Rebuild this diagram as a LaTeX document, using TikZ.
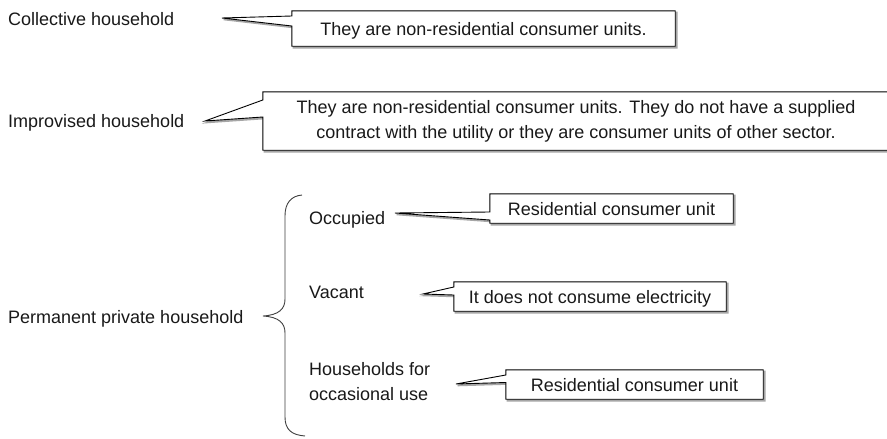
\documentclass[tikz,border=0pt]{standalone}
\usepackage{fontspec}
\setmainfont{Liberation Sans}
\usetikzlibrary{calc}
\begin{document}
\begin{tikzpicture}[x=1pt,y=-1pt,
  every node/.style={font=\fontsize{18}{25}\selectfont, inner sep=0pt, text=black!90},
  lab/.style={anchor=base west},
  cbox/.style={align=center, text height=13pt, text depth=0pt},
  cshape/.style={draw=black, fill=white, line width=0.9pt, line join=miter},
  cshadow/.style={draw=gray!70, fill=gray!70, line width=1.4pt, line join=miter,
    transform canvas={shift={(1.6pt,-1.6pt)}}},
  brace/.style={draw=black!75, line width=0.9pt}]
\useasboundingbox (0,0) rectangle (887,439);
\fill[white] (0,0) rectangle (887,439);

% labels
\node[lab] (coll) at (8,25.5) {Collective household};
\node[lab] (impr) at (8,127) {Improvised household};
\node[lab] (perm) at (8,323) {Permanent private household};
\node[lab] (occ)  at (309,224) {Occupied};
\node[lab] (vac)  at (309,298) {Vacant};
\node[anchor=north west, align=left] (occa) at (309,362.5) {Households for\\occasional use};

% callout boxes
\node[cbox, minimum width=383pt, minimum height=35pt] (b1) at (483.5,28.5) {They are non-residential consumer units.};
\node[align=center, minimum width=626pt, minimum height=58pt] (b2) at (576,121) {They are non-residential consumer units. They do not have a supplied\\contract with the utility or they are consumer units of other sector.};
\node[cbox, minimum width=243pt, minimum height=29pt] (b3) at (611.5,208.5) {Residential consumer unit};
\node[cbox, minimum width=272pt, minimum height=29pt] (b4) at (590,296.5) {It does not consume electricity};
\node[cbox, minimum width=257pt, minimum height=29pt] (b5) at (634.5,384.5) {Residential consumer unit};

% pointer tips and attachment heights
\coordinate (t1) at (222,18);  \coordinate (u1) at (0,16);  \coordinate (l1) at (0,26);
\coordinate (t2) at (205,121); \coordinate (u2) at (0,100); \coordinate (l2) at (0,117);
\coordinate (t3) at (395,213); \coordinate (u3) at (0,212); \coordinate (l3) at (0,220);
\coordinate (t4) at (423,294); \coordinate (u4) at (0,287); \coordinate (l4) at (0,295);
\coordinate (t5) at (456,384); \coordinate (u5) at (0,375); \coordinate (l5) at (0,382.5);

\newcommand{\calloutpath}[4]{(#1.north west) -- (#1.north east) -- (#1.south east) -- (#1.south west) -- (#1.west |- #4) -- (#2) -- (#1.west |- #3) -- cycle}

\foreach \b/\t/\u/\l in {b1/t1/u1/l1, b2/t2/u2/l2, b3/t3/u3/l3, b4/t4/u4/l4, b5/t5/u5/l5}{
  \path[cshadow] \calloutpath{\b}{\t}{\u}{\l};
  \path[cshape] \calloutpath{\b}{\t}{\u}{\l};
}
% redraw texts on top
\node[cbox, minimum width=383pt, minimum height=35pt] at (b1) {They are non-residential consumer units.};
\node[align=center, minimum width=626pt, minimum height=58pt] at (b2) {They are non-residential consumer units. They do not have a supplied\\contract with the utility or they are consumer units of other sector.};
\node[cbox, minimum width=243pt, minimum height=29pt] at (b3) {Residential consumer unit};
\node[cbox, minimum width=272pt, minimum height=29pt] at (b4) {It does not consume electricity};
\node[cbox, minimum width=257pt, minimum height=29pt] at (b5) {Residential consumer unit};

% brace
\coordinate (brtop) at (302,195);
\coordinate (brtip) at (263,316);
\coordinate (brbot) at (305,436);
\draw[brace] (brtop) .. controls (291,196) and (285,203) .. (285,216) -- (285,299)
  .. controls (285,309) and (279,315) .. (brtip)
  .. controls (279,317) and (285,323) .. (285,333) -- (285,417)
  .. controls (285,430) and (292,435) .. (brbot);
\end{tikzpicture}
\end{document}
